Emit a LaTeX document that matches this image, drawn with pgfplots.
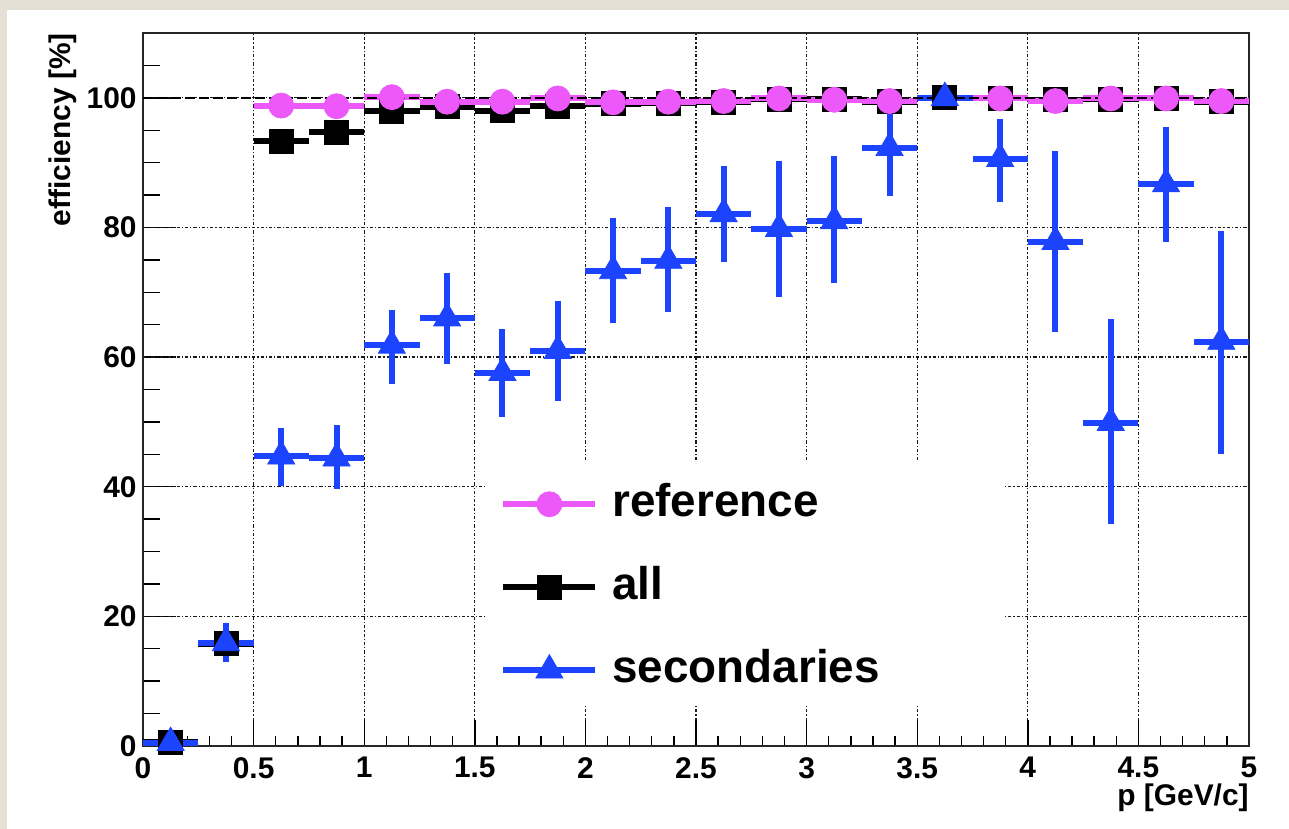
\documentclass[border=0pt]{standalone}
\usepackage{pgfplots}
\pgfplotsset{compat=1.18}
\usepackage{pgfplotstable}
\usepackage{fontspec}
\setmainfont{Liberation Sans}
\definecolor{refc}{RGB}{236,88,250}
\definecolor{secc}{RGB}{28,68,255}
\definecolor{bgc}{RGB}{229,224,212}

\pgfplotstableread{
x y ep em
0.125 0.5 0.6 0.5
0.375 15.9 3.1 3.0
0.625 44.7 4.3 4.6
0.875 44.4 5.2 4.8
1.125 61.8 5.4 6.0
1.375 66.0 6.9 7.1
1.625 57.6 6.8 6.9
1.875 61.0 7.6 7.8
2.125 73.3 8.2 8.1
2.375 74.9 8.3 8.0
2.625 82.1 7.4 7.5
2.875 79.8 10.5 10.5
3.125 81.0 10.1 9.5
3.375 92.3 7.5 7.4
3.625 100.0 0.0 0.0
3.875 90.6 6.2 6.6
4.125 77.8 14.0 14.0
4.375 49.9 16.0 15.7
4.625 86.7 8.8 9.0
4.875 62.4 17.1 17.3
}\sect

\pgfplotstableread{
x y
0.125 0.6
0.375 15.8
0.625 93.3
0.875 94.7
1.125 97.9
1.375 98.6
1.625 98.0
1.875 98.7
2.125 99.1
2.375 99.2
2.625 99.3
2.875 99.8
3.125 99.8
3.375 99.4
3.625 100.0
3.875 99.9
4.125 99.7
4.375 99.8
4.625 99.9
4.875 99.4
}\allt

\pgfplotstableread{
x y
0.625 98.8
0.875 98.7
1.125 100.1
1.375 99.4
1.625 99.4
1.875 99.9
2.125 99.3
2.375 99.4
2.625 99.5
2.875 99.9
3.125 99.7
3.375 99.5
3.875 99.9
4.125 99.5
4.375 99.9
4.625 99.9
4.875 99.5
}\reft

\begin{document}
\begin{tikzpicture}
\fill[bgc] (-71.5bp,-41.5bp) rectangle (573bp,373bp);
\fill[white] (-68bp,-41.5bp) rectangle (573bp,368bp);
% axis B: y ticks, y tick labels, y label
\begin{axis}[
  at={(0,0)}, anchor=south west,
  scale only axis, width=553bp, height=356.5bp,
  xmin=0, xmax=5, ymin=0, ymax=110,
  xtick=\empty,
  ytick={0,20,40,60,80,100},
  minor ytick={5,10,15,25,30,35,45,50,55,65,70,75,85,90,95,105},
  tick align=inside, tick pos=left,
  major tick length=16.5bp, minor tick length=8.5bp,
  tick style={line width=0.7bp, black},
  axis line style={draw=none},
  /pgf/number format/assume math mode=true,
  yticklabel style={font=\fontsize{15}{15}\selectfont\bfseries, inner sep=0pt, xshift=-3bp},
  ylabel={efficiency [\%]},
  every axis y label/.style={at={(axis description cs:0,1)}, xshift=-36bp, rotate=90, anchor=base east, inner sep=0pt, font=\fontsize{15}{15}\selectfont\bfseries},
]
\end{axis}
% axis A: everything else
\begin{axis}[
  at={(0,0)}, anchor=south west,
  scale only axis, width=553bp, height=356.5bp,
  xmin=0, xmax=5, ymin=0, ymax=110,
  clip=false,
  xtick={0,0.5,1,1.5,2,2.5,3,3.5,4,4.5,5},
  minor xtick={0.1,0.2,0.3,0.4,0.6,0.7,0.8,0.9,1.1,1.2,1.3,1.4,1.6,1.7,1.8,1.9,2.1,2.2,2.3,2.4,2.6,2.7,2.8,2.9,3.1,3.2,3.3,3.4,3.6,3.7,3.8,3.9,4.1,4.2,4.3,4.4,4.6,4.7,4.8,4.9},
  ytick={0,20,40,60,80,100},
  yticklabels={},
  ytick style={draw=none},
  tick align=inside, tick pos=left,
  major tick length=13bp, minor tick length=5bp,
  tick style={line width=0.7bp, black},
  axis line style={line width=0.7bp, black!85},
  grid=major,
  major grid style={line width=0.6bp, black!90, dash pattern=on 1.6bp off 1bp on 0.6bp off 1bp},
  /pgf/number format/assume math mode=true,
  xticklabel style={font=\fontsize{15}{15}\selectfont\bfseries, inner sep=0pt, yshift=-5.5bp},
  xlabel={p [GeV/c]},
  every axis x label/.style={at={(axis description cs:1,0)}, anchor=base east, yshift=-29.5bp, inner sep=0pt, font=\fontsize{15}{15}\selectfont\bfseries},
  legend style={draw=none, fill=none, at={(axis cs:1.614,40.6)}, anchor=north west,
    inner sep=0pt, row sep=20.5bp, column sep=7bp,
    font=\fontsize{23}{23}\selectfont\bfseries,
    nodes={inner sep=0pt, text height=16.5bp, text depth=4.5bp}},
  legend cell align=left,
]
\fill[white] (axis cs:1.546,6.3) rectangle (axis cs:3.897,43.8);

\addplot[forget plot, only marks, mark=square*, mark size=6bp, color=black,
  error bars/.cd, x dir=both, x fixed=0.125, error mark=none,
  error bar style={line width=3bp, black}] table[x=x,y=y] {\allt};

\addplot[forget plot, only marks, mark=*, mark size=6.25bp, color=refc,
  mark options={draw=refc, fill=refc},
  error bars/.cd, x dir=both, x fixed=0.125, error mark=none,
  error bar style={line width=3bp, refc}] table[x=x,y=y] {\reft};

\addplot[forget plot, only marks, mark=triangle*, mark size=7.8bp, color=secc,
  mark options={draw=secc, fill=secc},
  error bars/.cd, x dir=both, x fixed=0.125, y dir=both, y explicit, error mark=none,
  error bar style={line width=3bp, secc}] table[x=x,y=y,y error plus=ep,y error minus=em] {\sect};

\addplot[forget plot, black, line width=0.8bp, dash pattern=on 5bp off 2bp] coordinates {(0,100) (5,100)};

\addlegendimage{legend image code/.code={
  \draw[refc, line width=3bp] (0bp,0bp) -- (46bp,0bp);
  \path plot[mark=*, mark size=6.25bp, mark options={draw=refc, fill=refc}] coordinates {(23bp,0bp)};}}
\addlegendentry{reference}
\addlegendimage{legend image code/.code={
  \draw[black, line width=3bp] (0bp,0bp) -- (46bp,0bp);
  \path plot[mark=square*, mark size=6bp, mark options={draw=black, fill=black}] coordinates {(23bp,0bp)};}}
\addlegendentry{all}
\addlegendimage{legend image code/.code={
  \draw[secc, line width=3bp] (0bp,0bp) -- (46bp,0bp);
  \path plot[mark=triangle*, mark size=7.8bp, mark options={draw=secc, fill=secc}] coordinates {(23bp,0bp)};}}
\addlegendentry{secondaries}
\end{axis}
\pgfresetboundingbox
\useasboundingbox (-71.5bp,-41.5bp) rectangle (573bp,373bp);
\end{tikzpicture}
\end{document}
